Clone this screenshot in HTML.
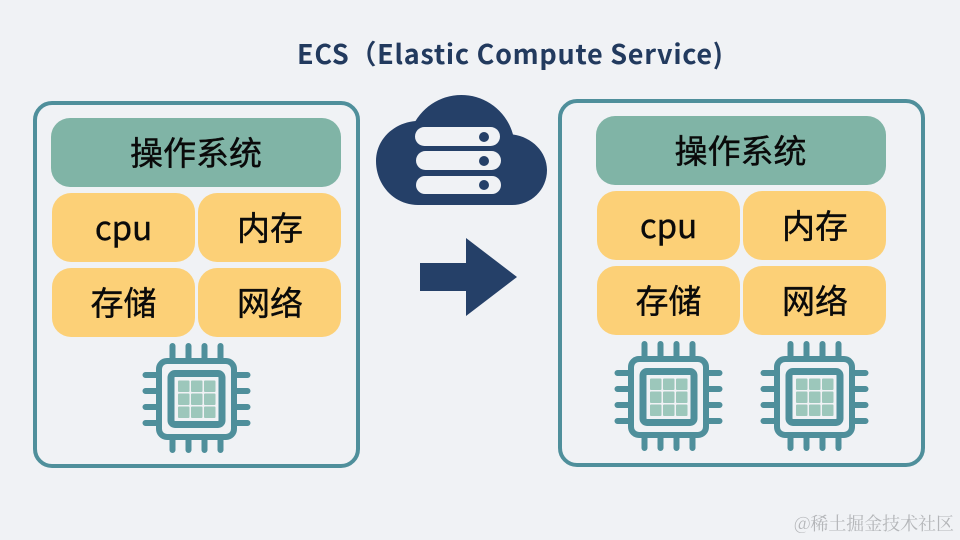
<!DOCTYPE html>
<html>
<head>
<meta charset="utf-8">
<style>
html,body{margin:0;padding:0;background:#f0f2f5;width:960px;height:540px;overflow:hidden}
svg{display:block}
text{font-family:"Liberation Sans","Noto Sans CJK SC",sans-serif}
.t{font-family:"Noto Sans CJK SC","Liberation Sans",sans-serif;font-size:33px;font-weight:400;fill:#0a0a0a;stroke:#0a0a0a;stroke-width:.4px;text-anchor:middle}
</style>
</head>
<body>
<svg width="960" height="540" viewBox="0 0 960 540" xmlns="http://www.w3.org/2000/svg">
<defs>
<g id="chip">
<g stroke="#4f8f9b" stroke-width="6" stroke-linecap="round" fill="none">
<path d="M-24 -53V-38M-8 -53V-38M8 -53V-38M24 -53V-38M-24 38V51M-8 38V51M8 38V51M24 38V51M-51 -24H-38M-51 -8H-38M-51 8H-38M-51 24H-38M38 -24H51M38 -8H51M38 8H51M38 24H51"/>
</g>
<rect x="-37.500" y="-38" width="75" height="76" rx="8" fill="#f0f2f5" stroke="#4f8f9b" stroke-width="6"/>
<rect x="-25.500" y="-25.500" width="51" height="51" rx="4" fill="#f0f2f5" stroke="#4f8f9b" stroke-width="7"/>
<g fill="#9cc7bb">
<rect x="-18.500" y="-18.500" width="11.500" height="11.500" rx="1"/><rect x="-5.500" y="-18.500" width="11.500" height="11.500" rx="1"/><rect x="7.500" y="-18.500" width="11.500" height="11.500" rx="1"/>
<rect x="-18.500" y="-5.500" width="11.500" height="11.500" rx="1"/><rect x="-5.500" y="-5.500" width="11.500" height="11.500" rx="1"/><rect x="7.500" y="-5.500" width="11.500" height="11.500" rx="1"/>
<rect x="-18.500" y="7.500" width="11.500" height="11.500" rx="1"/><rect x="-5.500" y="7.500" width="11.500" height="11.500" rx="1"/><rect x="7.500" y="7.500" width="11.500" height="11.500" rx="1"/>
</g>
</g>
<g id="stack">
<rect x="51" y="118" width="290" height="69" rx="19" fill="#80b4a6"/>
<rect x="52" y="193" width="143" height="69" rx="19" fill="#fcd077"/>
<rect x="198" y="193" width="143" height="69" rx="19" fill="#fcd077"/>
<rect x="52" y="268" width="143" height="69" rx="19" fill="#fcd077"/>
<rect x="198" y="268" width="143" height="69" rx="19" fill="#fcd077"/>
</g>
</defs>

<text x="510" y="64" text-anchor="middle" style="font-family:'Noto Sans CJK SC','Liberation Sans',sans-serif;font-size:27px;font-weight:700;fill:#223a5e" textLength="426" lengthAdjust="spacing">ECS（Elastic Compute Service)</text>

<!-- left panel -->
<rect x="35" y="103" width="323" height="363" rx="17" fill="#f0f2f5" stroke="#4f8f9b" stroke-width="4"/>
<use href="#stack"/>
<text class="t" x="196" y="165">操作系统</text>
<text class="t" x="123.500" y="240">cpu</text>
<text class="t" x="270" y="240">内存</text>
<text class="t" x="123.500" y="315">存储</text>
<text class="t" x="270" y="315">网络</text>
<use href="#chip" x="196.500" y="399"/>

<!-- right panel -->
<rect x="560" y="101" width="363" height="364" rx="17" fill="#f0f2f5" stroke="#4f8f9b" stroke-width="4"/>
<use href="#stack" x="545" y="-2"/>
<text class="t" x="740.500" y="163">操作系统</text>
<text class="t" x="668.500" y="238">cpu</text>
<text class="t" x="815" y="238">内存</text>
<text class="t" x="668.500" y="313">存储</text>
<text class="t" x="815" y="313">网络</text>
<use href="#chip" x="668.500" y="397"/>
<use href="#chip" x="814.500" y="397"/>

<!-- cloud -->
<path d="M418 205C394 205 376 185 376 161C376 140 393 123 415.500 121A53.500 53.500 0 0 1 513 134.500C532 137 547 152 547 170C547 190 531 205 512 205Z" fill="#254068"/>
<rect x="415" y="127" width="85" height="19" rx="9.500" fill="#f0f2f5"/>
<rect x="416" y="151" width="85" height="19" rx="9.500" fill="#f0f2f5"/>
<rect x="416" y="176" width="85" height="18" rx="9" fill="#f0f2f5"/>
<circle cx="484" cy="137" r="5" fill="#254068"/>
<circle cx="484" cy="161" r="5" fill="#254068"/>
<circle cx="484" cy="185" r="5" fill="#254068"/>

<!-- arrow -->
<polygon points="420,263 466,263 466,238 517,277 466,316 466,291 420,291" fill="#254068"/>

<text x="794" y="530" style="font-family:'Noto Serif CJK SC','Liberation Sans',serif;font-size:18px;fill:#b4b6b9" textLength="160" lengthAdjust="spacing">@稀土掘金技术社区</text>
</svg>
</body>
</html>
